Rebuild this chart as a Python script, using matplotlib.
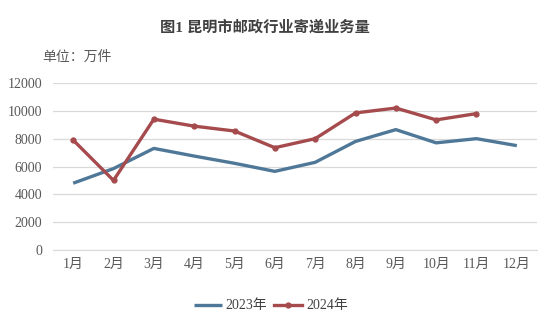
import matplotlib
matplotlib.use("Agg")
import matplotlib.pyplot as plt

months = ["1月", "2月", "3月", "4月", "5月", "6月", "7月", "8月", "9月", "10月", "11月", "12月"]
y2023 = [4800, 5850, 7300, 6750, 6230, 5650, 6300, 7800, 8650, 7700, 8000, 7500]
y2024 = [7900, 5000, 9400, 8900, 8550, 7350, 8000, 9850, 10200, 9350, 9800]
yticks = [0, 2000, 4000, 6000, 8000, 10000, 12000]

plt.rcParams['font.family'] = ['Liberation Serif', 'Noto Sans CJK SC', 'DejaVu Sans']

W, H = 548, 328
fig = plt.figure(figsize=(W/100, H/100), dpi=100)
ax = fig.add_axes([53/W, 1-250/H, (537-53)/W, (250-83)/H])

x23 = list(range(len(y2023)))
x24 = list(range(len(y2024)))
c23 = "#4F7898"
c24 = "#A64B4D"
ax.plot(x23, y2023, color=c23, lw=2.4, solid_capstyle='butt', label="2023年", zorder=3)
ax.plot(x24, y2024, color=c24, lw=2.4, marker='o', ms=3.5, label="2024年", zorder=4)

ax.set_xlim(-0.5, 11.5)
ax.set_ylim(0, 12000)
ax.set_yticks(yticks)
ax.set_yticklabels([str(v) for v in yticks])
ax.set_xticks(range(12))
ax.set_xticklabels(months)
ax.grid(axis='y', color='#D9D9D9', lw=0.9)
ax.set_axisbelow(True)
for s in ['left', 'right', 'top']:
    ax.spines[s].set_visible(False)
ax.spines['bottom'].set_color('#D9D9D9')
ax.tick_params(axis='both', length=0, labelsize=10, colors='#595959', pad=6)
ax.tick_params(axis='y', pad=8)

fig.text(265/W, 1-27/H, "图1 昆明市邮政行业寄递业务量", ha='center', va='center',
         fontsize=11, fontweight='bold', color='#404040')
fig.text(42/W, 1-57/H, "单位：万件", ha='left', va='center', fontsize=10, color='#595959')

leg = fig.legend(loc='center', bbox_to_anchor=(271/W, 1-306/H), ncol=2, frameon=False,
                 fontsize=10, handlelength=2, columnspacing=0.5, handletextpad=0.3)
for t in leg.get_texts():
    t.set_color('#404040')

fig.savefig("out.png", dpi=100)
